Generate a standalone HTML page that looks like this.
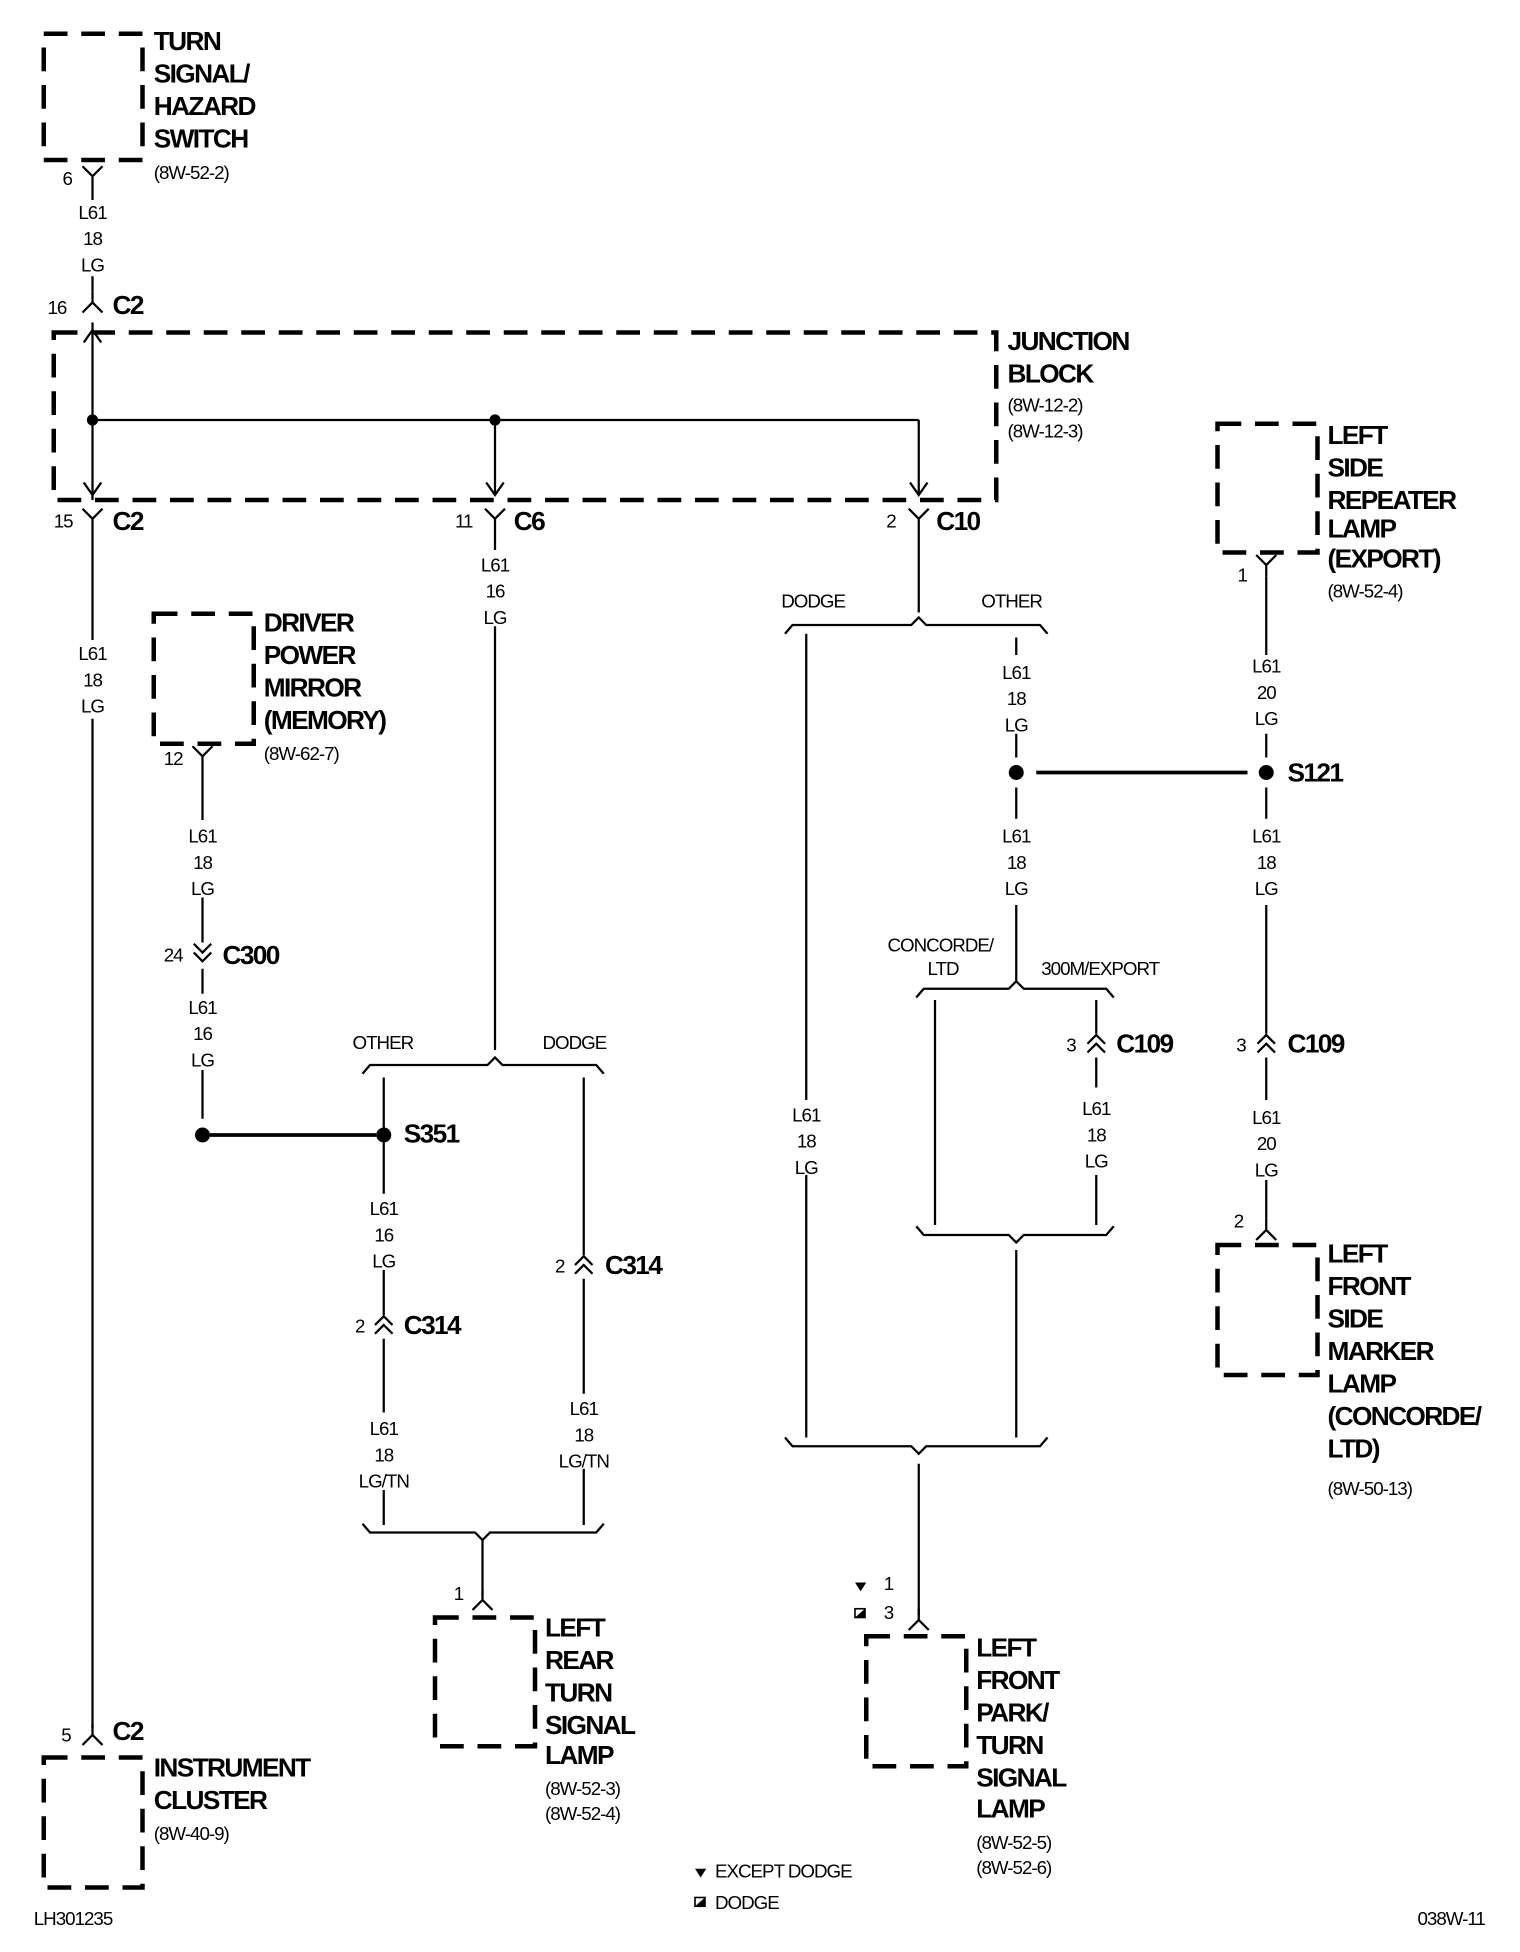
<!DOCTYPE html>
<html><head><meta charset="utf-8"><style>
html,body{margin:0;padding:0;background:#fff}
svg{display:block}
.b{font-family:"Liberation Sans Narrow","Liberation Sans",sans-serif;font-weight:bold;font-size:21px;letter-spacing:-1.3px}
.s{font-family:"Liberation Sans Narrow","Liberation Sans",sans-serif;font-size:15px;letter-spacing:-0.8px}
.m{text-anchor:middle}
.w{stroke:#000;stroke-width:1.8;fill:none}
.d{stroke:#000;stroke-width:3.6;fill:none;stroke-dasharray:19 11}
</style></head><body>
<svg width="1520" height="1952" viewBox="0 0 1216 1561.6" xmlns="http://www.w3.org/2000/svg">
<defs>
<path id="my" d="M-8,-8 L0,0 L8,-8 M0,0 L0,9" class="w"/>
<path id="fu" d="M-8,8 L0,0 L8,8 M0,0 L0,-9" class="w"/>
<path id="dd" d="M-7,-7 L0,0 L7,-7 M-7,0 L0,7 L7,0" class="w"/>
<path id="du" d="M-7,7 L0,0 L7,7 M-7,0 L0,-7 L7,0" class="w"/>
<path id="ad" d="M-7,-10 L0,0 L7,-10" class="w"/>
<path id="au" d="M-7,10 L0,0 L7,10" class="w"/>
</defs>
<g fill="#000">
<rect x="35" y="27" width="79" height="101" class="d"/>
<rect x="43" y="266" width="754" height="134" class="d"/>
<rect x="123" y="491" width="80" height="104" class="d"/>
<rect x="35" y="1406" width="79" height="104" class="d"/>
<rect x="348" y="1294" width="80" height="103" class="d"/>
<rect x="693" y="1309" width="80" height="104" class="d"/>
<rect x="974" y="339" width="80" height="103" class="d"/>
<rect x="974" y="996" width="80" height="104" class="d"/>

<text class="b" x="123" y="40">TURN</text>
<text class="b" x="123" y="66">SIGNAL/</text>
<text class="b" x="123" y="92">HAZARD</text>
<text class="b" x="123" y="118">SWITCH</text>
<text class="s" x="123" y="143">(8W-52-2)</text>

<text class="b" x="806" y="280">JUNCTION</text>
<text class="b" x="806" y="306">BLOCK</text>
<text class="s" x="806" y="329">(8W-12-2)</text>
<text class="s" x="806" y="350">(8W-12-3)</text>

<text class="b" x="211" y="505">DRIVER</text>
<text class="b" x="211" y="531">POWER</text>
<text class="b" x="211" y="557">MIRROR</text>
<text class="b" x="211" y="583">(MEMORY)</text>
<text class="s" x="211" y="608">(8W-62-7)</text>

<text class="b" x="123" y="1421">INSTRUMENT</text>
<text class="b" x="123" y="1447">CLUSTER</text>
<text class="s" x="123" y="1472">(8W-40-9)</text>

<text class="b" x="436" y="1309">LEFT</text>
<text class="b" x="436" y="1335">REAR</text>
<text class="b" x="436" y="1361">TURN</text>
<text class="b" x="436" y="1387">SIGNAL</text>
<text class="b" x="436" y="1411">LAMP</text>
<text class="s" x="436" y="1436">(8W-52-3)</text>
<text class="s" x="436" y="1456">(8W-52-4)</text>

<text class="b" x="781" y="1325">LEFT</text>
<text class="b" x="781" y="1351">FRONT</text>
<text class="b" x="781" y="1377">PARK/</text>
<text class="b" x="781" y="1403">TURN</text>
<text class="b" x="781" y="1429">SIGNAL</text>
<text class="b" x="781" y="1454">LAMP</text>
<text class="s" x="781" y="1479">(8W-52-5)</text>
<text class="s" x="781" y="1499">(8W-52-6)</text>

<text class="b" x="1062" y="355">LEFT</text>
<text class="b" x="1062" y="381">SIDE</text>
<text class="b" x="1062" y="407">REPEATER</text>
<text class="b" x="1062" y="430">LAMP</text>
<text class="b" x="1062" y="454">(EXPORT)</text>
<text class="s" x="1062" y="478">(8W-52-4)</text>

<text class="b" x="1062" y="1010">LEFT</text>
<text class="b" x="1062" y="1036">FRONT</text>
<text class="b" x="1062" y="1062">SIDE</text>
<text class="b" x="1062" y="1088">MARKER</text>
<text class="b" x="1062" y="1114">LAMP</text>
<text class="b" x="1062" y="1140">(CONCORDE/</text>
<text class="b" x="1062" y="1166">LTD)</text>
<text class="s" x="1062" y="1196">(8W-50-13)</text>

<use href="#my" x="74" y="141"/>
<text class="s" x="50" y="148">6</text>
<path class="w" d="M74,150 V160 M74,221 V233"/>
<text class="s m" x="74" y="175">L61</text><text class="s m" x="74" y="196">18</text><text class="s m" x="74" y="217">LG</text>
<use href="#fu" x="74" y="242"/>
<text class="s" x="38" y="251">16</text>
<text class="b" x="90" y="251">C2</text>
<path class="w" d="M74,258 V400"/>
<use href="#au" x="74" y="264"/>
<path class="w" d="M74,336 H735 M396,336 V396 M735,336 V396"/>
<circle cx="74" cy="336" r="4.5"/><circle cx="396" cy="336" r="4.5"/>
<use href="#ad" x="74" y="396"/><use href="#ad" x="396" y="396"/><use href="#ad" x="735" y="396"/>

<use href="#my" x="74" y="415"/><text class="s" x="43" y="422">15</text><text class="b" x="90" y="424">C2</text>
<use href="#my" x="396" y="415"/><text class="s" x="364" y="422">11</text><text class="b" x="411" y="424">C6</text>
<use href="#my" x="735" y="415"/><text class="s" x="709" y="422">2</text><text class="b" x="749" y="424">C10</text>

<path class="w" d="M74,424 V512 M74,575 V1383"/>
<text class="s m" x="74" y="528">L61</text><text class="s m" x="74" y="549">18</text><text class="s m" x="74" y="570">LG</text>
<use href="#fu" x="74" y="1388"/>
<text class="s" x="49" y="1393">5</text><text class="b" x="90" y="1392">C2</text>

<use href="#my" x="162" y="605"/><text class="s" x="131" y="612">12</text>
<path class="w" d="M162,614 V656 M162,718 V754 M162,775 V795 M162,856 V895"/>
<text class="s m" x="162" y="674">L61</text><text class="s m" x="162" y="695">18</text><text class="s m" x="162" y="716">LG</text>
<use href="#dd" x="162" y="762"/><text class="s" x="131" y="769">24</text><text class="b" x="178" y="771">C300</text>
<text class="s m" x="162" y="811">L61</text><text class="s m" x="162" y="832">16</text><text class="s m" x="162" y="853">LG</text>
<circle cx="162" cy="908" r="6"/>
<path d="M168,908 H301" stroke="#000" stroke-width="3" fill="none"/>
<circle cx="307" cy="908" r="6"/>
<text class="b" x="323" y="914">S351</text>

<path class="w" d="M396,424 V440 M396,501 V840"/>
<text class="s m" x="396" y="457">L61</text><text class="s m" x="396" y="478">16</text><text class="s m" x="396" y="499">LG</text>
<path class="w" d="M290,859 L296,852 H390 L396,846 L402,852 H477 L483,859"/>
<text class="s" x="282" y="839">OTHER</text><text class="s" x="434" y="839">DODGE</text>
<path class="w" d="M307,862 V902 M307,914 V955 M307,1016 V1052 M307,1071 V1130 M307,1192 V1220"/>
<text class="s m" x="307" y="972">L61</text><text class="s m" x="307" y="993">16</text><text class="s m" x="307" y="1014">LG</text>
<use href="#du" x="307" y="1060"/><text class="s" x="284" y="1066">2</text><text class="b" x="323" y="1067">C314</text>
<text class="s m" x="307" y="1148">L61</text><text class="s m" x="307" y="1169">18</text><text class="s m" x="307" y="1190">LG/TN</text>
<path class="w" d="M467,862 V1004 M467,1023 V1115 M467,1175 V1220"/>
<use href="#du" x="467" y="1012"/><text class="s" x="444" y="1018">2</text><text class="b" x="484" y="1019">C314</text>
<text class="s m" x="467" y="1132">L61</text><text class="s m" x="467" y="1153">18</text><text class="s m" x="467" y="1174">LG/TN</text>
<path class="w" d="M290,1219 L296,1226 H380 L386,1232 L392,1226 H477 L483,1219"/>
<path class="w" d="M386,1232 V1276"/>
<use href="#fu" x="386" y="1280"/><text class="s" x="363" y="1280">1</text>

<path class="w" d="M735,424 V490"/>
<path class="w" d="M628,507 L634,500 H729 L735,494 L741,500 H832 L838,507"/>
<text class="s" x="625" y="486">DODGE</text><text class="s" x="785" y="486">OTHER</text>
<path class="w" d="M645,507 V880 M645,940 V1150"/>
<text class="s m" x="645" y="897">L61</text><text class="s m" x="645" y="918">18</text><text class="s m" x="645" y="939">LG</text>
<path class="w" d="M813,510 V524 M813,587 V606 M813,630 V655 M813,724 V785"/>
<text class="s m" x="813" y="543">L61</text><text class="s m" x="813" y="564">18</text><text class="s m" x="813" y="585">LG</text>
<circle cx="813" cy="618" r="6"/>
<path d="M829,618 H998" stroke="#000" stroke-width="3" fill="none"/>
<circle cx="1013" cy="618" r="6"/>
<text class="b" x="1030" y="625">S121</text>
<text class="s m" x="813" y="674">L61</text><text class="s m" x="813" y="695">18</text><text class="s m" x="813" y="716">LG</text>
<text class="s" x="710" y="761">CONCORDE/</text><text class="s" x="742" y="780">LTD</text>
<text class="s" x="833" y="780">300M/EXPORT</text>
<path class="w" d="M733,798 L739,791 H807 L813,785 L819,791 H885 L891,798"/>
<path class="w" d="M748,800 V980 M877,800 V827 M877,846 V870 M877,940 V980"/>
<use href="#du" x="877" y="835"/><text class="s" x="853" y="841">3</text><text class="b" x="893" y="842">C109</text>
<text class="s m" x="877" y="892">L61</text><text class="s m" x="877" y="913">18</text><text class="s m" x="877" y="934">LG</text>
<path class="w" d="M733,981 L739,988 H807 L813,994 L819,988 H885 L891,981"/>
<path class="w" d="M813,1000 V1150"/>
<path class="w" d="M628,1150 L634,1157 H729 L735,1163 L741,1157 H832 L838,1150"/>
<path class="w" d="M735,1171 V1292"/>
<use href="#fu" x="735" y="1296"/>
<path d="M684,1266 H693 L688.5,1273 Z"/><text class="s" x="707" y="1272">1</text>
<rect x="684" y="1287" width="8" height="7" fill="none" stroke="#000" stroke-width="1.3"/><path d="M684,1294 L692,1287 L692,1294 Z"/><text class="s" x="707" y="1295">3</text>

<use href="#my" x="1013" y="452"/><text class="s" x="990" y="465">1</text>
<path class="w" d="M1013,461 V524 M1013,587 V606 M1013,630 V655 M1013,724 V827 M1013,846 V880 M1013,944 V975"/>
<text class="s m" x="1013" y="538">L61</text><text class="s m" x="1013" y="559">20</text><text class="s m" x="1013" y="580">LG</text>
<text class="s m" x="1013" y="674">L61</text><text class="s m" x="1013" y="695">18</text><text class="s m" x="1013" y="716">LG</text>
<use href="#du" x="1013" y="835"/><text class="s" x="989" y="841">3</text><text class="b" x="1030" y="842">C109</text>
<text class="s m" x="1013" y="899">L61</text><text class="s m" x="1013" y="920">20</text><text class="s m" x="1013" y="941">LG</text>
<use href="#fu" x="1013" y="984"/><text class="s" x="987" y="982">2</text>

<path d="M556,1495 H565 L560.5,1502 Z"/><text class="s" x="572" y="1502">EXCEPT DODGE</text>
<rect x="556" y="1518" width="8" height="7" fill="none" stroke="#000" stroke-width="1.3"/><path d="M556,1525 L564,1518 L564,1525 Z"/><text class="s" x="572" y="1527">DODGE</text>
<text class="s" x="27" y="1540">LH301235</text>
<text class="s" x="1134" y="1540">038W-11</text>
</g>
</svg>
</body></html>
